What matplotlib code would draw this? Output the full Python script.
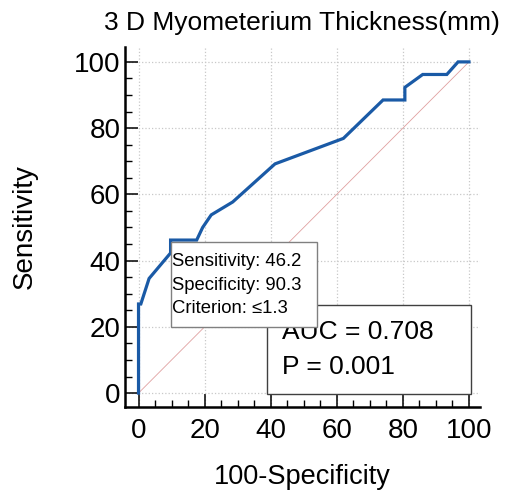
import numpy as np
import matplotlib
matplotlib.use("Agg")
from matplotlib import pyplot as plt
from matplotlib.patches import Rectangle

# ROC curve points (100-Specificity, Sensitivity)
fpr = [0, 0, 0.7, 3.2, 9.7, 9.7, 17.6, 19.4, 22.0, 28.5, 41.3, 62.0, 74.0,
       80.6, 80.6, 86.0, 93.3, 96.7, 100]
tpr = [0, 26.9, 26.9, 34.6, 42.3, 46.2, 46.2, 50.0, 53.8, 57.7, 69.2, 76.9, 88.5,
       88.5, 92.3, 96.2, 96.2, 100, 100]

titolo = "3 D Myometerium Thickness(mm)"
righe_info = ["Sensitivity: 46.2", "Specificity: 90.3", "Criterion: \u22641.3"]
righe_auc = ["AUC = 0.708", "P = 0.001"]

plt.rcParams['font.family'] = ['Liberation Sans', 'DejaVu Sans']

fig = plt.figure(figsize=(5.07, 4.92), dpi=100)
ax = fig.add_axes([0.2465, 0.1728, 0.700, 0.7317])

# diagonale di riferimento
ax.plot([0, 100], [0, 100], color="#e0a0a0", linewidth=0.6, zorder=2)
# curva ROC
ax.plot(fpr, tpr, color="#1a5aa6", linewidth=2.3, zorder=4, solid_joinstyle="miter")

ax.set_xlim(-4.1, 103.3)
ax.set_ylim(-4.2, 104.5)
ax.set_xticks(np.arange(0, 101, 20))
ax.set_yticks(np.arange(0, 101, 20))
ax.set_xticks(np.arange(0, 101, 5), minor=True)
ax.set_yticks(np.arange(0, 101, 5), minor=True)

ax.grid(True, which="major", color="#c8c8c8", linestyle=":", linewidth=0.9, zorder=0)
ax.set_axisbelow(True)

for lato in ["top", "right"]:
    ax.spines[lato].set_visible(False)
for lato in ["left", "bottom"]:
    ax.spines[lato].set_linewidth(1.8)

ax.tick_params(which="major", direction="in", length=9.5, width=1.1, labelsize=20)
ax.tick_params(which="minor", direction="in", length=5, width=1.0)
ax.tick_params(axis="x", pad=8)
ax.tick_params(axis="y", pad=3)

ax.set_title(titolo, fontsize=19, pad=12)
ax.set_xlabel("100-Specificity", fontsize=19.5, labelpad=14)
ax.set_ylabel("Sensitivity", fontsize=20, labelpad=26)

# riquadro AUC
ax.add_patch(Rectangle((39.0, -0.3), 61.5, 26.9, facecolor="white", edgecolor="#404040",
                       linewidth=1.0, zorder=5, clip_on=False))
for testo, y in zip(righe_auc, [18.4, 7.9]):
    ax.text(43.3, y, testo, fontsize=19, va="center", ha="left", zorder=6)

# riquadro criterio
ax.add_patch(Rectangle((9.74, 20.0), 44.4, 25.5, facecolor="white", edgecolor="#808080",
                       linewidth=1.0, zorder=7))
for testo, y in zip(righe_info, [39.7, 32.6, 25.4]):
    ax.text(10.1, y, testo, fontsize=13.3, va="center", ha="left", zorder=8)

fig.savefig("out.png", dpi=100)
